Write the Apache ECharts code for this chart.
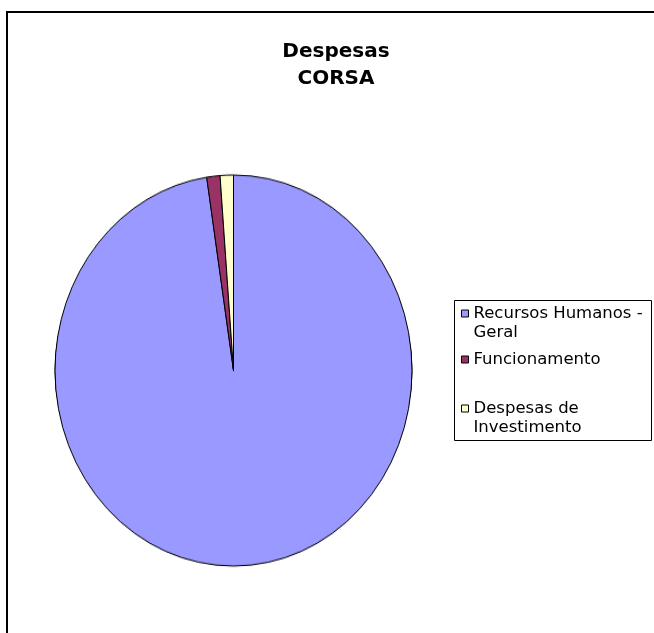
<!DOCTYPE html>
<html>
<head>
<meta charset="utf-8">
<script src="https://cdn.jsdelivr.net/npm/echarts@6/dist/echarts.min.js"></script>
<style>
  html, body { margin: 0; padding: 0; background: #fff; }
  #wrap { position: relative; width: 654px; height: 633px; }
  #base, #pie { position: absolute; left: 0; top: 0; width: 654px; height: 633px; }
  /* Excel draws this pie slightly taller than wide */
  #pie { transform: scaleY(1.0953); transform-origin: 233.5px 370.5px; }
</style>
</head>
<body>
<div id="wrap">
  <div id="base"></div>
  <div id="pie"></div>
</div>
<script>
const categories = ['Recursos Humanos - Geral', 'Funcionamento', 'Despesas de Investimento']
const values = [97.6, 1.2, 1.2]
const colors = ['#9999FF', '#993366', '#FFFFCC']
// blank first line keeps the marker level with the first text line
const legendLabels = {
  'Recursos Humanos - Geral': ' \nRecursos Humanos -\nGeral',
  'Funcionamento': 'Funcionamento',
  'Despesas de Investimento': ' \nDespesas de\nInvestimento'
}

const pieData = categories.map((name, i) => ({
  name,
  value: values[i],
  itemStyle: { color: colors[i] }
}))

const pieSeries = {
  type: 'pie',
  center: [233.5, 370.5],
  radius: 178.5,
  startAngle: 90,
  clockwise: true,
  avoidLabelOverlap: false,
  label: { show: false },
  labelLine: { show: false },
  emphasis: { disabled: true },
  animation: false,
  itemStyle: { borderColor: '#000', borderWidth: 1 },
  data: pieData
}

const font = 'DejaVu Sans'

const legendItem = (name, top) => ({
  orient: 'vertical',
  left: 461,
  top,
  padding: 0,
  data: [name],
  icon: 'rect',
  itemWidth: 7,
  itemHeight: 7,
  selectedMode: false,
  formatter: n => legendLabels[n],
  itemStyle: { borderColor: '#000', borderWidth: 1 },
  textStyle: {
    fontFamily: font,
    fontSize: 16.5,
    color: '#000',
    lineHeight: 19
  }
})

const base = echarts.init(document.getElementById('base'), null, { renderer: 'canvas' })
base.setOption({
  backgroundColor: '#fff',
  animation: false,
  title: {
    text: 'Despesas\nCORSA',
    left: 336,
    textAlign: 'center',
    top: 38,
    padding: 0,
    textStyle: {
      fontFamily: font,
      fontSize: 20,
      fontWeight: 'bold',
      color: '#000',
      lineHeight: 27
    }
  },
  legend: [
    legendItem(categories[0], 285),
    legendItem(categories[1], 350),
    legendItem(categories[2], 380)
  ],
  graphic: [
    {
      type: 'rect',
      shape: { x: 7, y: 12, width: 800, height: 800 },
      style: { fill: 'none', stroke: '#000', lineWidth: 2 },
      silent: true
    },
    {
      type: 'rect',
      shape: { x: 454.5, y: 300.5, width: 197, height: 140 },
      style: { fill: 'none', stroke: '#000', lineWidth: 1 },
      silent: true
    }
  ],
  series: [pieSeries]
})

const pie = echarts.init(document.getElementById('pie'), null, { renderer: 'canvas' })
pie.setOption({
  backgroundColor: 'transparent',
  animation: false,
  series: [pieSeries]
})
</script>
</body>
</html>
